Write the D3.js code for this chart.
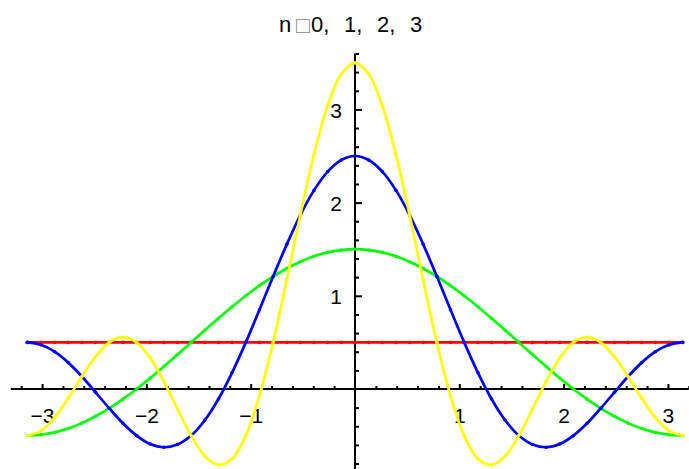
<!DOCTYPE html>
<html>
<head>
<meta charset="utf-8">
<script src="https://cdn.jsdelivr.net/npm/d3@7"></script>
<style>
  html, body { margin: 0; padding: 0; background: #fff; }
  svg { display: block; }
  text { font-family: "Liberation Sans", Arial, sans-serif; fill: #000; }
</style>
</head>
<body>
<svg id="chart" width="689" height="469"></svg>
<script>
// Partial sums of the Dirichlet kernel, sampled at steps of pi/24 over [-pi, pi]
const xs = [-3.142,-3.011,-2.880,-2.749,-2.618,-2.487,-2.356,-2.225,-2.094,-1.963,-1.833,-1.702,-1.571,-1.440,-1.309,-1.178,-1.047,-0.916,-0.785,-0.654,-0.524,-0.393,-0.262,-0.131,0,0.131,0.262,0.393,0.524,0.654,0.785,0.916,1.047,1.178,1.309,1.440,1.571,1.702,1.833,1.963,2.094,2.225,2.356,2.487,2.618,2.749,2.880,3.011,3.142];

const n0 = [0.5,0.5,0.5,0.5,0.5,0.5,0.5,0.5,0.5,0.5,0.5,0.5,0.5,0.5,0.5,0.5,0.5,0.5,0.5,0.5,0.5,0.5,0.5,0.5,0.5,0.5,0.5,0.5,0.5,0.5,0.5,0.5,0.5,0.5,0.5,0.5,0.5,0.5,0.5,0.5,0.5,0.5,0.5,0.5,0.5,0.5,0.5,0.5,0.5];

const n1 = [-0.5,-0.491,-0.466,-0.424,-0.366,-0.293,-0.207,-0.109,0,0.117,0.241,0.369,0.5,0.631,0.759,0.883,1,1.109,1.207,1.293,1.366,1.424,1.466,1.491,1.5,
            1.491,1.466,1.424,1.366,1.293,1.207,1.109,1,0.883,0.759,0.631,0.5,0.369,0.241,0.117,0,-0.109,-0.207,-0.293,-0.366,-0.424,-0.466,-0.491,-0.5];

const n2 = [0.5,0.474,0.400,0.283,0.134,-0.035,-0.207,-0.368,-0.5,-0.590,-0.625,-0.596,-0.5,-0.335,-0.107,0.176,0.5,0.850,1.207,1.552,1.866,2.131,2.332,2.457,2.5,
            2.457,2.332,2.131,1.866,1.552,1.207,0.850,0.5,0.176,-0.107,-0.335,-0.5,-0.596,-0.625,-0.590,-0.5,-0.368,-0.207,-0.035,0.134,0.283,0.400,0.474,0.5];

const n3 = [-0.5,-0.449,-0.307,-0.099,0.134,0.348,0.5,0.556,0.5,0.334,0.082,-0.214,-0.5,-0.718,-0.814,-0.748,-0.5,-0.074,0.5,1.169,1.866,2.514,3.039,3.381,3.5,
            3.381,3.039,2.514,1.866,1.169,0.5,-0.074,-0.5,-0.748,-0.814,-0.718,-0.5,-0.214,0.082,0.334,0.5,0.556,0.5,0.348,0.134,-0.099,-0.307,-0.449,-0.5];

const seriesNames = ["n0", "n1", "n2", "n3"];
const seriesColors = ["#ff0000", "#00ff00", "#0000ff", "#ffff00"];
const seriesValues = [n0, n1, n2, n3];

const xTicks = [-3, -2, -1, 1, 2, 3];
const yTicks = [1, 2, 3];
const titleParts = ["n", "\u25A1", "0, 1, 2, 3"];

const svg = d3.select("#chart");

const x = d3.scaleLinear().domain([-Math.PI, Math.PI]).range([27.3, 682.7]);
const y = d3.scaleLinear().domain([0, 3]).range([389, 109.4]);

const xMin = -3.3, xMax = 3.2;
const yMin = -0.86, yMax = 3.6;
const minorX = d3.range(-16, 17).map(i => i * 0.2).filter(v => Math.abs(v - Math.round(v)) > 1e-6);
const minorY = d3.range(-4, 19).map(i => i * 0.2).filter(v => Math.abs(v - Math.round(v)) > 1e-6);
const intFmt = d3.format("d");

// X axis through the origin: ticks point up, labels sit below
const gx = svg.append("g").attr("transform", `translate(0,${y(0)})`);
gx.append("line")
  .attr("x1", x(xMin)).attr("x2", x(xMax))
  .attr("stroke", "#000").attr("stroke-width", 2);
gx.call(d3.axisBottom(x).tickValues(minorX).tickSizeInner(-3).tickSizeOuter(0).tickFormat(""))
  .call(g => g.select(".domain").remove());
const gxMajor = svg.append("g").attr("transform", `translate(0,${y(0)})`)
  .call(d3.axisBottom(x).tickValues(xTicks).tickSizeInner(-5).tickSizeOuter(0).tickPadding(19).tickFormat(intFmt))
  .call(g => g.select(".domain").remove());
gxMajor.selectAll("text").attr("font-size", 21).attr("font-family", "Liberation Sans, Arial, sans-serif");

// Y axis through the origin: ticks point right, labels to the left
const gy = svg.append("g").attr("transform", `translate(${x(0)},0)`);
gy.append("line")
  .attr("y1", y(yMax)).attr("y2", y(yMin))
  .attr("stroke", "#000").attr("stroke-width", 2);
gy.call(d3.axisLeft(y).tickValues(minorY).tickSizeInner(-4).tickSizeOuter(0).tickFormat(""))
  .call(g => g.select(".domain").remove());
const gyMajor = svg.append("g").attr("transform", `translate(${x(0)},0)`)
  .call(d3.axisLeft(y).tickValues(yTicks).tickSizeInner(-7).tickSizeOuter(0).tickPadding(13).tickFormat(intFmt))
  .call(g => g.select(".domain").remove());
gyMajor.selectAll("text").attr("font-size", 21).attr("font-family", "Liberation Sans, Arial, sans-serif").attr("dy", "0.38em");
svg.selectAll(".tick line").attr("stroke-width", 2);

// Curves
const line = d3.line()
  .x((d, i) => x(xs[i]))
  .y(d => y(d))
  .curve(d3.curveCatmullRom.alpha(0.5));

const curves = svg.append("g");
seriesValues.forEach((vals, s) => {
  curves.append("path")
    .datum(vals)
    .attr("class", seriesNames[s])
    .attr("fill", "none")
    .attr("stroke", seriesColors[s])
    .attr("stroke-width", 2.7)
    .attr("stroke-linejoin", "round")
    .attr("d", line);
  curves.append("g").selectAll("circle")
    .data(vals)
    .join("circle")
    .attr("cx", (d, i) => x(xs[i]))
    .attr("cy", d => y(d))
    .attr("r", 1.8)
    .attr("fill", seriesColors[s]);
});

// Title
const title = svg.append("text")
  .attr("y", 32)
  .attr("font-size", 22);
title.append("tspan").attr("x", 279).text(titleParts[0]);
title.append("tspan").attr("x", 296).attr("y", 33).attr("fill", "#888").attr("font-size", 23).text(titleParts[1]);
title.append("tspan").attr("x", 311).attr("y", 32).attr("word-spacing", 8.5).text(titleParts[2]);
</script>
</body>
</html>
